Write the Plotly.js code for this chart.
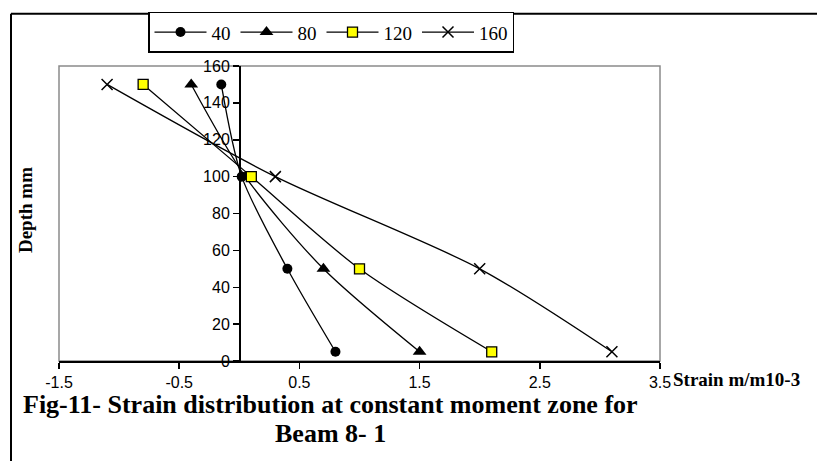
<!DOCTYPE html>
<html>
<head>
<meta charset="utf-8">
<script src="https://cdn.plot.ly/plotly-3.0.1.min.js"></script>
<style>html,body{margin:0;padding:0;background:#fff;}#chart{width:817px;height:461px;}</style>
</head>
<body>
<div id="chart"></div>
<script>
// ---- data ----
const depth = [150, 100, 50, 5];
const seriesNames = ["40", "80", "120", "160"];
const strain40 = [-0.15, 0.02, 0.4, 0.8];
const strain80 = [-0.4, 0.05, 0.7, 1.5];
const strain120 = [-0.8, 0.1, 1.0, 2.1];
const strain160 = [-1.1, 0.3, 2.0, 3.1];
const xTickVals = [-1.5, -0.5, 0.5, 1.5, 2.5, 3.5];
const xTickText = ["-1.5", "-0.5", "0.5", "1.5", "2.5", "3.5"];
const yTickVals = [0, 20, 40, 60, 80, 100, 120, 140, 160];
const titleLine1 = "Fig-11- Strain distribution at constant moment zone for";
const titleLine2 = "Beam 8- 1";

// ---- layout helpers (pixel -> paper) ----
const L = 59, R = 660, T = 62, B = 361, W = 817, H = 461;
const px = p => (p - L) / (R - L);
const py = p => (B - p) / (B - T);

const lineStyle = {color: "black", width: 1.3, shape: "spline", smoothing: 0.8};
const traces = [
  {x: strain40, y: depth, name: seriesNames[0], mode: "lines+markers", line: lineStyle,
   marker: {symbol: "circle", size: 10, color: "black"}},
  {x: strain80, y: depth, name: seriesNames[1], mode: "lines+markers", line: lineStyle,
   marker: {symbol: "triangle-up", size: 12, color: "black"}},
  {x: strain120, y: depth, name: seriesNames[2], mode: "lines+markers", line: lineStyle,
   marker: {symbol: "square", size: 10, color: "#FFFF00", line: {color: "black", width: 1.3}}},
  {x: strain160, y: depth, name: seriesNames[3], mode: "lines+markers", line: lineStyle,
   marker: {symbol: "x-thin", size: 11, color: "black", line: {color: "black", width: 1.5}}}
].map(t => Object.assign(t, {cliponaxis: false}));

const serif = "Liberation Serif, Times New Roman, serif";
const sans = "Liberation Sans, Arial, sans-serif";

const layout = {
  width: W, height: H,
  margin: {l: L, r: W - R, t: T, b: H - B, pad: 0},
  paper_bgcolor: "white", plot_bgcolor: "white",
  showlegend: true,
  xaxis: {
    range: [-1.5, 3.5], tickmode: "array", tickvals: xTickVals, ticktext: xTickText,
    showgrid: false, zeroline: false, showline: true, linecolor: "black", linewidth: 1.5,
    ticks: "outside", ticklen: 6, tickcolor: "black", tickwidth: 1.5,
    tickfont: {family: sans, size: 16, color: "black"}, fixedrange: true
  },
  yaxis: {
    range: [0, 160], tickmode: "array", tickvals: yTickVals,
    anchor: "free", position: px(239),
    showgrid: false, zeroline: false, showline: true, linecolor: "black", linewidth: 1.5,
    ticks: "outside", ticklen: 6, tickcolor: "black", tickwidth: 1.5,
    tickfont: {family: sans, size: 16, color: "black"}, fixedrange: true
  },
  legend: {
    orientation: "h", x: px(148), y: py(7), xanchor: "left", yanchor: "top",
    bordercolor: "black", borderwidth: 1.5, bgcolor: "white",
    font: {family: serif, size: 19, color: "black"}, itemwidth: 52, tracegroupgap: 0
  },
  shapes: [
    {type: "rect", xref: "paper", yref: "paper", x0: 0, x1: 1, y0: 0, y1: 1,
     line: {color: "#8a8a8a", width: 1.5}, layer: "below"},
    {type: "line", xref: "paper", yref: "paper", x0: px(11), x1: px(11), y0: py(9), y1: py(470),
     line: {color: "black", width: 2}},
    {type: "line", xref: "paper", yref: "paper", x0: px(11), x1: px(830), y0: py(9), y1: py(9),
     line: {color: "black", width: 2}}
  ],
  annotations: [
    {text: "<b>Depth mm</b>", xref: "paper", yref: "paper", x: px(25), y: py(208),
     textangle: -90, showarrow: false, xanchor: "center", yanchor: "middle",
     font: {family: serif, size: 19, color: "black"}},
    {text: "<b>Strain m/m10-3</b>", xref: "paper", yref: "paper", x: px(671), y: py(380),
     showarrow: false, xanchor: "left", yanchor: "middle",
     font: {family: serif, size: 19, color: "black"}},
    {text: "<b>" + titleLine1 + "</b>", xref: "paper", yref: "paper", x: px(330), y: py(405),
     showarrow: false, xanchor: "center", yanchor: "middle",
     font: {family: serif, size: 26, color: "black"}},
    {text: "<b>" + titleLine2 + "</b>", xref: "paper", yref: "paper", x: px(330), y: py(434),
     showarrow: false, xanchor: "center", yanchor: "middle",
     font: {family: serif, size: 26, color: "black"}}
  ]
};

Plotly.newPlot("chart", traces, layout, {staticPlot: true, displayModeBar: false});
</script>
</body>
</html>
